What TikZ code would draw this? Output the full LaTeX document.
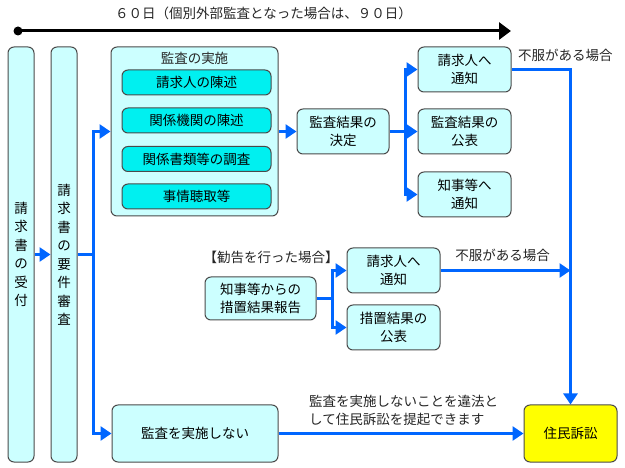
\documentclass[tikz,border=0pt]{standalone}
\usepackage{fontspec}
\setmainfont{Noto Sans CJK JP}
\usetikzlibrary{arrows.meta}
\definecolor{lcyan}{HTML}{CCFFFF}
\definecolor{icyan}{HTML}{00F0F0}
\definecolor{flow}{HTML}{0066FF}
\definecolor{edgec}{HTML}{4A4A4A}
\definecolor{yel}{HTML}{FFFF00}
\begin{document}
\begin{tikzpicture}[x=1pt,y=-1pt,
  font=\fontsize{13.5}{18.5}\selectfont,
  box/.style={draw=edgec, line width=1pt, rounded corners=6pt, fill=lcyan, align=center, inner sep=0pt},
  ibox/.style={box, fill=icyan, minimum width=149pt, minimum height=25pt},
  sbox/.style={box, minimum width=93pt, minimum height=45pt},
  flowline/.style={draw=flow, line width=3pt},
  flowarrow/.style={flowline, -{Triangle[length=11pt,width=14pt]}},
  lbl/.style={inner sep=0pt, text=black!85}
]
\fill[white] (0,0) rectangle (625,468);
\useasboundingbox (0,0) rectangle (625,468);

% timeline
\coordinate (t0) at (18,31);
\coordinate (t1) at (511,31);
\fill (t0) circle (4.5pt);
\draw[line width=3pt, -{Triangle[length=12pt,width=17pt]}] (t0) -- (t1);
\node[lbl] (period) at (263.5,13) {６０日（個別外部監査となった場合は、９０日）};

% left columns
\node[box, minimum width=26pt, minimum height=415pt] (uke) at (21,254.5)
  {請\\求\\書\\の\\受\\付};
\node[box, minimum width=26pt, minimum height=415pt] (yoken) at (64,254.5)
  {請\\求\\書\\の\\要\\件\\審\\査};

% audit implementation
\node[box, minimum width=167pt, minimum height=169pt] (jisshi) at (194.5,131.5) {};
\node[lbl] (jtitle) at (194.5,58) {監査の実施};
\node[ibox] (i1) at (196.5,82.5) {請求人の陳述};
\node[ibox] (i2) at (196.5,120.5) {関係機関の陳述};
\node[ibox] (i3) at (196.5,159) {関係書類等の調査};
\node[ibox] (i4) at (196.5,196.5) {事情聴取等};

% decision
\node[sbox, minimum width=92pt] (kettei) at (343,131.5) {監査結果の\\決定};
\node[sbox] (na) at (464.5,69.5) {請求人へ\\通知};
\node[sbox] (nb) at (464.5,131.5) {監査結果の\\公表};
\node[sbox] (nc) at (464.5,194.5) {知事等へ\\通知};

% recommendation
\node[lbl] (kankoku) at (271,257) {【勧告を行った場合】};
\node[box, minimum width=111pt, minimum height=43pt] (hokoku) at (260.5,298.5) {知事等からの\\措置結果報告};
\node[sbox] (nd) at (393.5,270.5) {請求人へ\\通知};
\node[sbox] (ne) at (393.5,327.5) {措置結果の\\公表};

% bottom
\node[box, minimum width=166pt, minimum height=57pt] (shinai) at (195,433.5) {監査を実施しない};
\node[box, fill=yel, minimum width=93pt, minimum height=57pt] (sosho) at (570.5,433.5) {住民訴訟};

% labels
\node[lbl, anchor=west] (fufuku1) at (518,55) {不服がある場合};
\node[lbl] (fufuku2) at (502.5,255) {不服がある場合};
\node[lbl, anchor=west, align=left] (ihou) at (309,410.5) {監査を実施しないことを違法と\\して住民訴訟を提起できます};

% connectors
\coordinate (b1) at (93,254.5);
\coordinate (b2) at (405,131.5);
\coordinate (b3) at (332,298.5);
\coordinate (j1) at (sosho.north |- nd.east);

\draw[flowarrow] (uke.east) -- (yoken.west);
\draw[flowarrow] (yoken.east) -- (b1) |- (jisshi.west);
\draw[flowarrow] (b1) |- (shinai.west);
\draw[flowarrow] (jisshi.east) -- (kettei.west);
\draw[flowarrow] (kettei.east) -- (b2) |- (na.west);
\draw[flowarrow] (b2) -- (nb.west);
\draw[flowarrow] (b2) |- (nc.west);
\draw[flowarrow] (na.east) -| (sosho.north);
\draw[flowline] (hokoku.east) -- (b3);
\draw[flowarrow] (b3) |- (nd.west);
\draw[flowarrow] (b3) |- (ne.west);
\draw[flowarrow] (nd.east) -- (j1);
\draw[flowarrow] (shinai.east) -- (sosho.west);
\end{tikzpicture}
\end{document}
